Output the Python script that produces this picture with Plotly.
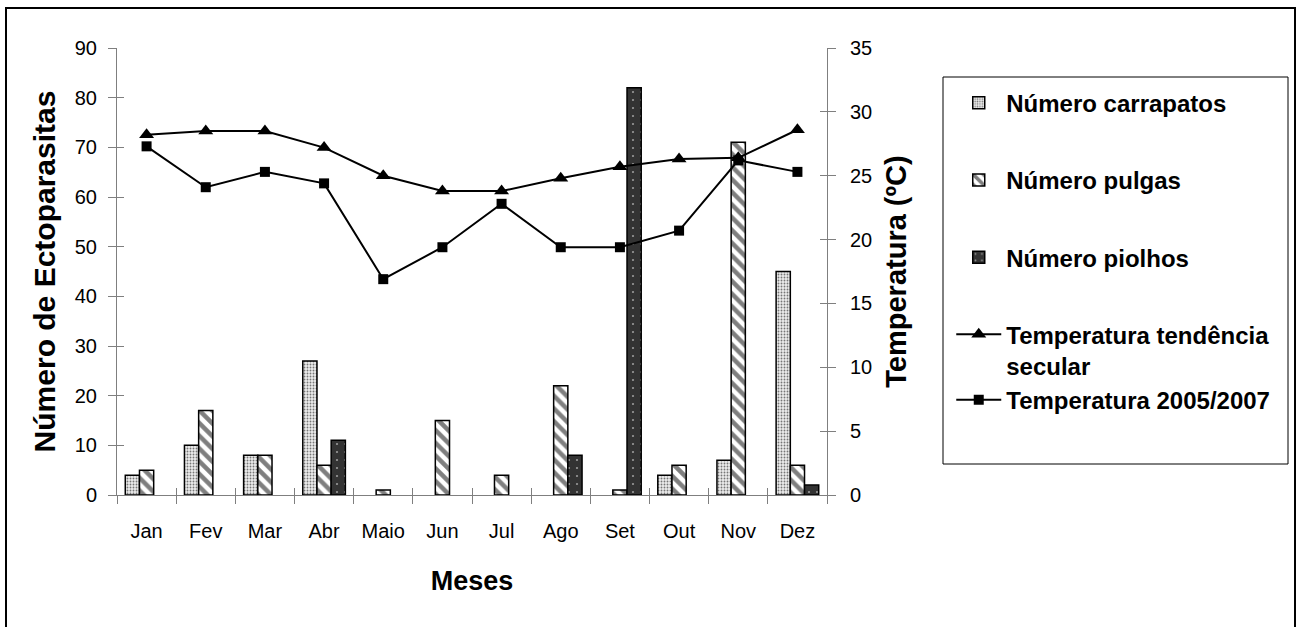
import plotly.graph_objects as go

meses = ["Jan", "Fev", "Mar", "Abr", "Maio", "Jun", "Jul", "Ago", "Set", "Out", "Nov", "Dez"]
carrapatos = [4, 10, 8, 27, None, None, None, None, None, 4, 7, 45]
pulgas = [5, 17, 8, 6, 1, 15, 4, 22, 1, 6, 71, 6]
piolhos = [None, None, None, 11, None, None, None, 8, 82, None, None, 2]
temp_secular = [28.2, 28.5, 28.5, 27.2, 25.0, 23.8, 23.8, 24.8, 25.7, 26.3, 26.4, 28.6]
temp_2005_2007 = [27.3, 24.1, 25.3, 24.4, 16.9, 19.4, 22.8, 19.4, 19.4, 20.7, 26.2, 25.3]

FONT = "Liberation Sans, Arial, sans-serif"
outline = dict(color="black", width=1.5)

fig = go.Figure()
fig.add_trace(go.Bar(
    x=meses, y=carrapatos, name="Número carrapatos", legendgroup="a",
    marker=dict(color="white", line=outline,
                pattern=dict(shape=".", fgcolor="black", bgcolor="#ececec", size=3, solidity=0.3)),
))
fig.add_trace(go.Bar(
    x=meses, y=pulgas, name="Número pulgas", legendgroup="b",
    marker=dict(color="white", line=outline,
                pattern=dict(shape="\\", fgcolor="black", bgcolor="white", size=9, solidity=0.5)),
))
fig.add_trace(go.Bar(
    x=meses, y=piolhos, name="Número piolhos", legendgroup="c",
    marker=dict(color="#333333", line=outline,
                pattern=dict(shape=".", fgcolor="white", bgcolor="#333333", size=8, solidity=0.06)),
))
fig.add_trace(go.Scatter(
    x=meses, y=temp_secular, name="Temperatura tendência<br>secular", legendgroup="d",
    yaxis="y2", mode="lines+markers",
    line=dict(color="black", width=2),
    marker=dict(symbol="triangle-up", size=13, color="black"),
))
fig.add_trace(go.Scatter(
    x=meses, y=temp_2005_2007, name="Temperatura 2005/2007", legendgroup="d",
    yaxis="y2", mode="lines+markers",
    line=dict(color="black", width=2),
    marker=dict(symbol="square", size=10, color="black"),
))
# helper traces (no data) so the inner half of the crossing tick marks is drawn
fig.add_trace(go.Scatter(x=meses, y=[None] * len(meses), xaxis="x2", yaxis="y3",
                         showlegend=False, hoverinfo="skip"))
fig.add_trace(go.Scatter(x=meses, y=[None] * len(meses), xaxis="x2", yaxis="y4",
                         showlegend=False, hoverinfo="skip"))

axis_col = "#7f7f7f"
tick_font = dict(family=FONT, size=20, color="black")
fig.update_layout(
    width=1300, height=627,
    margin=dict(l=117, r=473, t=48, b=132, pad=0),
    paper_bgcolor="white", plot_bgcolor="white",
    font=dict(family=FONT, size=20, color="black"),
    barmode="group", bargap=0.28, bargroupgap=0,
    showlegend=True,
    legend=dict(
        x=1.175, y=0.927, xanchor="left", yanchor="top",
        font=dict(family=FONT, size=24, color="black", weight="bold"),
        tracegroupgap=43, itemwidth=45, valign="top",
        bgcolor="rgba(0,0,0,0)", borderwidth=0,
    ),
    xaxis=dict(
        type="category", categoryarray=meses, range=[-0.5, 11.5],
        showline=True, linecolor=axis_col, linewidth=1,
        ticks="outside", tickson="boundaries", ticklen=8, tickcolor=axis_col,
        ticklabelstandoff=18, tickfont=tick_font,
        title=dict(text="Meses", font=dict(family=FONT, size=27, color="black", weight="bold"), standoff=30),
        showgrid=False, zeroline=False,
    ),
    xaxis2=dict(
        type="category", categoryarray=meses, range=[-0.5, 11.5], overlaying="x",
        anchor="y", side="bottom",
        showline=False, ticks="inside", tickson="boundaries", ticklen=7, tickcolor=axis_col,
        showticklabels=False, showgrid=False, zeroline=False,
    ),
    yaxis=dict(
        range=[0, 90], dtick=10,
        showline=True, linecolor=axis_col, linewidth=1,
        ticks="outside", ticklen=8, tickcolor=axis_col,
        ticklabelstandoff=7, tickfont=tick_font,
        title=dict(text="Número de Ectoparasitas", font=dict(family=FONT, size=30, color="black", weight="bold"), standoff=10),
        showgrid=False, zeroline=False,
    ),
    yaxis2=dict(
        range=[0, 35], dtick=5, overlaying="y", side="right",
        showline=True, linecolor=axis_col, linewidth=1,
        ticks="outside", ticklen=8, tickcolor=axis_col,
        ticklabelstandoff=10, tickfont=tick_font,
        title=dict(text="Temperatura (ºC)", font=dict(family=FONT, size=29, color="black", weight="bold"), standoff=14),
        showgrid=False, zeroline=False,
    ),
    yaxis3=dict(
        range=[0, 90], dtick=10, overlaying="y", side="left", anchor="x",
        showline=False, ticks="inside", ticklen=7, tickcolor=axis_col,
        showticklabels=False, showgrid=False, zeroline=False,
    ),
    yaxis4=dict(
        range=[0, 35], dtick=5, overlaying="y", side="right", anchor="x",
        showline=False, ticks="inside", ticklen=7, tickcolor=axis_col,
        showticklabels=False, showgrid=False, zeroline=False,
    ),
    shapes=[
        dict(type="rect", xref="paper", yref="paper",
             x0=(6 - 117) / 710, x1=(1295 - 117) / 710,
             y0=(495 - 660) / 447, y1=(495 - 8) / 447,
             line=dict(color="black", width=2), fillcolor="rgba(0,0,0,0)", layer="below"),
        dict(type="rect", xref="paper", yref="paper",
             x0=(943 - 117) / 710, x1=(1288 - 117) / 710,
             y0=(495 - 464) / 447, y1=(495 - 77) / 447,
             line=dict(color="black", width=1), fillcolor="rgba(0,0,0,0)", layer="below"),
    ],
)

fig.write_html("out.html", config={"displayModeBar": False},
               post_script="document.body.style.margin='0px';")
